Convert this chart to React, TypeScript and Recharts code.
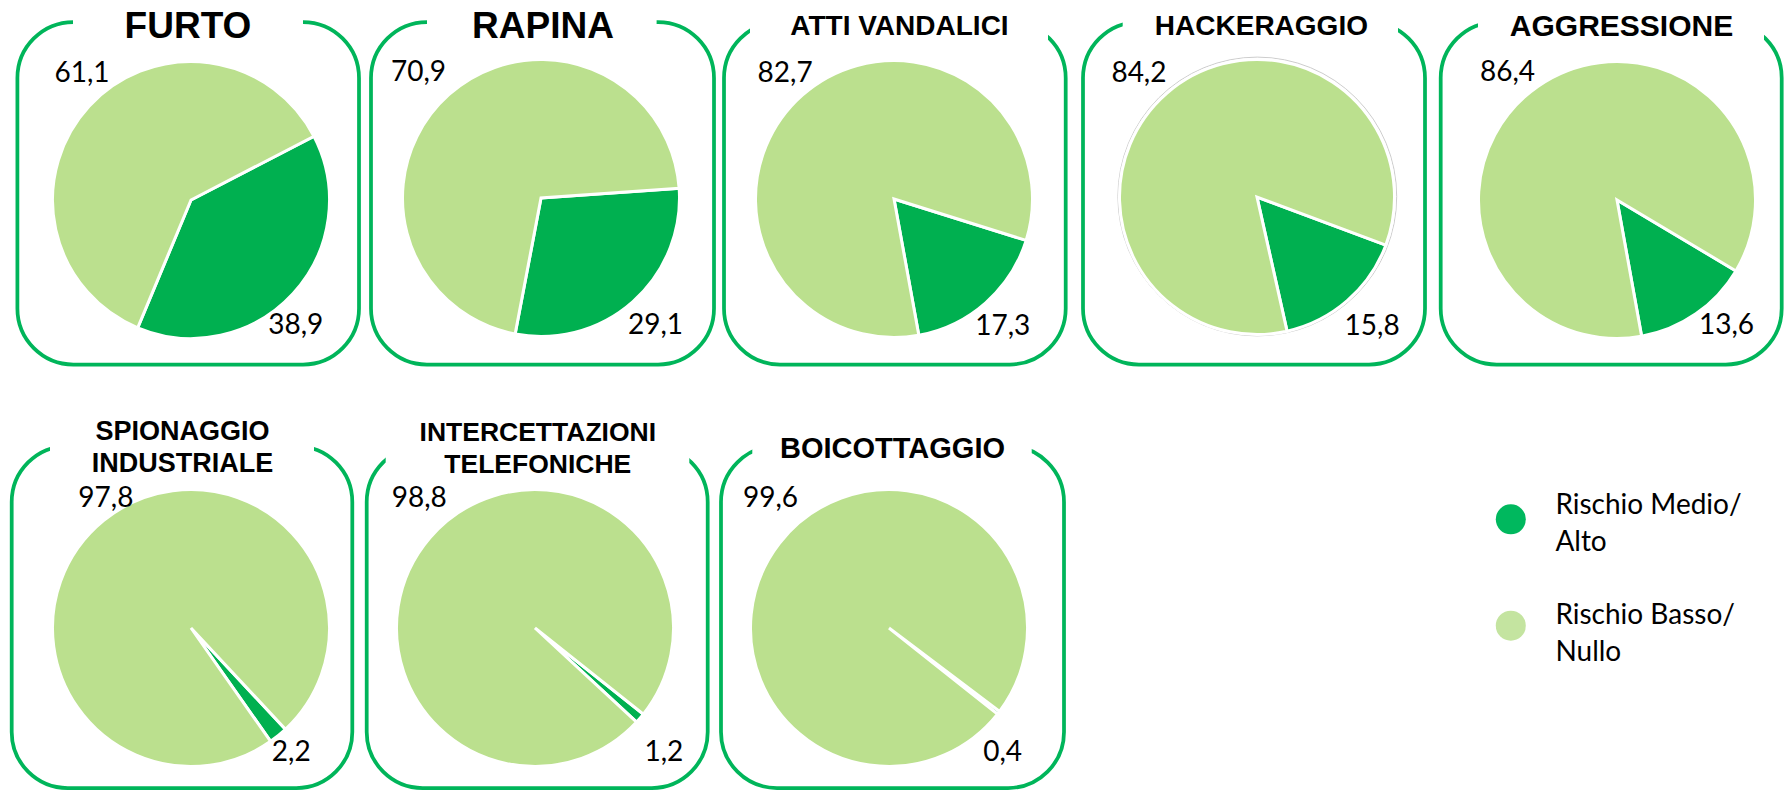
import React from 'react';
import { PieChart, Pie, Cell } from 'recharts';

// ---- data ----
const categories = [
  'FURTO',
  'RAPINA',
  'ATTI VANDALICI',
  'HACKERAGGIO',
  'AGGRESSIONE',
  'SPIONAGGIO INDUSTRIALE',
  'INTERCETTAZIONI TELEFONICHE',
  'BOICOTTAGGIO',
];
const seriesNames = ['Rischio Medio/ Alto', 'Rischio Basso/ Nullo'];
const rischioMedioAlto = [38.9, 29.1, 17.3, 15.8, 13.6, 2.2, 1.2, 0.4];
const rischioBassoNullo = [61.1, 70.9, 82.7, 84.2, 86.4, 97.8, 98.8, 99.6];

// ---- styles ----
const DARK = '#00B050';
const LIGHT = '#BBE08E';
const LEGEND_DARK = '#00B85E';
const LEGEND_LIGHT = '#C4E4A0';
const BOX = '#00B55A';
const COLORS = [DARK, LIGHT];
const TITLE_FONT = '"Liberation Sans", Arial, Helvetica, sans-serif';
const LABEL_FONT = 'Lato, "Open Sans", sans-serif';
const HALF = 160;

// ---- layout (positions only) ----
type Layout = {
  box: number[]; gap: number[]; tx: number; ty: number[]; ts: number;
  cx: number; cy: number; r: number; start: number; tl: number[]; br: number[]; ring?: boolean; wrap?: boolean;
};
const layout: Layout[] = [
  { box: [17.4, 22, 359, 364.5], gap: [73, 303], tx: 188, ty: [38.3], ts: 37, cx: 190.5, cy: 200, r: 138.5, start: 27.4, tl: [54, 82], br: [322.8, 334] },
  { box: [371, 22, 714, 364.5], gap: [427, 656.6], tx: 543, ty: [37.7], ts: 37, cx: 540.7, cy: 198, r: 138.5, start: 4, tl: [390.7, 81], br: [682.7, 334] },
  { box: [724, 22, 1065.7, 364.5], gap: [750, 1048], tx: 899.5, ty: [35], ts: 28, cx: 893.7, cy: 198.5, r: 138.5, start: -17.4, tl: [757.3, 81], br: [1030, 334] },
  { box: [1083, 22, 1425, 364.5], gap: [1122.7, 1398], tx: 1261.4, ty: [35], ts: 28, cx: 1257.3, cy: 196.5, r: 137.5, start: -20.5, tl: [1111.7, 81], br: [1400, 334], ring: true },
  { box: [1440.7, 22, 1781.7, 364.5], gap: [1478, 1764], tx: 1621.5, ty: [36], ts: 30, cx: 1617, cy: 200, r: 138.5, start: -30.8, tl: [1480, 80.7], br: [1754, 334] },
  { box: [11.7, 446, 352.3, 788], gap: [50, 314], tx: 182.5, ty: [440, 471.7], ts: 27, cx: 191, cy: 627.6, r: 138.5, start: -47, tl: [78.3, 506.7], br: [310.7, 761], wrap: true },
  { box: [366.7, 446, 707.7, 788], gap: [385.7, 689.3], tx: 537.8, ty: [440.7, 472.7], ts: 26.5, cx: 535, cy: 628, r: 138.5, start: -38.5, tl: [391.7, 506.7], br: [683.3, 761], wrap: true },
  { box: [721, 446, 1064, 788], gap: [752.3, 1031.7], tx: 892.5, ty: [458.3], ts: 29, cx: 888.7, cy: 628, r: 138.5, start: -37, tl: [742.7, 506.7], br: [1021.7, 761] },
];

const legendPos = [
  { cx: 1510.8, cy: 519.3, x: 1555.4, y: [514, 550.7] },
  { cx: 1510.8, cy: 625.7, x: 1555.4, y: [624, 660.7] },
];

const fmt = (v: number) => v.toFixed(1).replace('.', ',');

function Panel({ i }: { i: number }) {
  const L = layout[i];
  const data = [
    { name: seriesNames[0], value: rischioMedioAlto[i] },
    { name: seriesNames[1], value: rischioBassoNullo[i] },
  ];
  const renderLabel = (p: any) => {
    const ccx = typeof p.cx === 'number' ? p.cx : HALF;
    const ccy = typeof p.cy === 'number' ? p.cy : HALF;
    const isLight = p.index === 1;
    const pos = isLight ? L.tl : L.br;
    return (
      <text
        key={`lbl-${p.index}`}
        x={ccx + (pos[0] - L.cx)}
        y={ccy + (pos[1] - L.cy)}
        textAnchor={isLight ? 'start' : 'end'}
        fontFamily={LABEL_FONT}
        fontSize={28}
        fill="#000"
      >
        {fmt(p.value)}
      </text>
    );
  };
  return (
    <div style={{ position: 'absolute', left: L.cx - HALF, top: L.cy - HALF }}>
      <PieChart width={HALF * 2} height={HALF * 2} margin={{ top: 0, right: 0, bottom: 0, left: 0 }}>
        <Pie
          data={data}
          dataKey="value"
          nameKey="name"
          cx={HALF}
          cy={HALF}
          innerRadius={0}
          outerRadius={L.r}
          startAngle={L.start}
          endAngle={L.start - 360}
          stroke="#ffffff"
          strokeWidth={3}
          isAnimationActive={false}
          labelLine={false}
          label={renderLabel}
        >
          {data.map((d, k) => (
            <Cell key={d.name} fill={COLORS[k]} stroke="#ffffff" strokeWidth={3} />
          ))}
        </Pie>
      </PieChart>
    </div>
  );
}

export default function App() {
  return (
    <div style={{ position: 'absolute', left: 0, top: 0, width: 1785, height: 791, background: '#fff', overflow: 'hidden' }}>
      <svg width={1785} height={791} style={{ position: 'absolute', left: 0, top: 0 }}>
        {layout.map((L, i) => {
          const [x0, y0, x1, y1] = L.box;
          const lines = L.wrap ? categories[i].split(' ') : [categories[i]];
          return (
            <g key={categories[i]}>
              <rect x={x0} y={y0} width={x1 - x0} height={y1 - y0} rx={56} ry={56} fill="none" stroke={BOX} strokeWidth={3.75} />
              <rect x={L.gap[0]} y={y0 - 5} width={L.gap[1] - L.gap[0]} height={60} fill="#fff" />
              {L.ring && <circle cx={L.cx} cy={L.cy} r={139.4} fill="none" stroke="#cdcdcd" strokeWidth={1} />}
              {lines.map((t, k) => (
                <text key={t} x={L.tx} y={L.ty[k]} textAnchor="middle" fontFamily={TITLE_FONT} fontWeight="bold" fontSize={L.ts} fill="#000">
                  {t}
                </text>
              ))}
            </g>
          );
        })}
        {seriesNames.map((s, k) => {
          const P = legendPos[k];
          const parts = s.split(' ');
          const lines = [parts.slice(0, parts.length - 1).join(' '), parts[parts.length - 1]];
          return (
            <g key={s}>
              <circle cx={P.cx} cy={P.cy} r={15} fill={k === 0 ? LEGEND_DARK : LEGEND_LIGHT} />
              {lines.map((t, j) => (
                <text key={t} x={P.x} y={P.y[j]} fontFamily={LABEL_FONT} fontSize={28} fill="#000">
                  {t}
                </text>
              ))}
            </g>
          );
        })}
      </svg>
      {layout.map((_, i) => (
        <Panel key={categories[i]} i={i} />
      ))}
    </div>
  );
}
